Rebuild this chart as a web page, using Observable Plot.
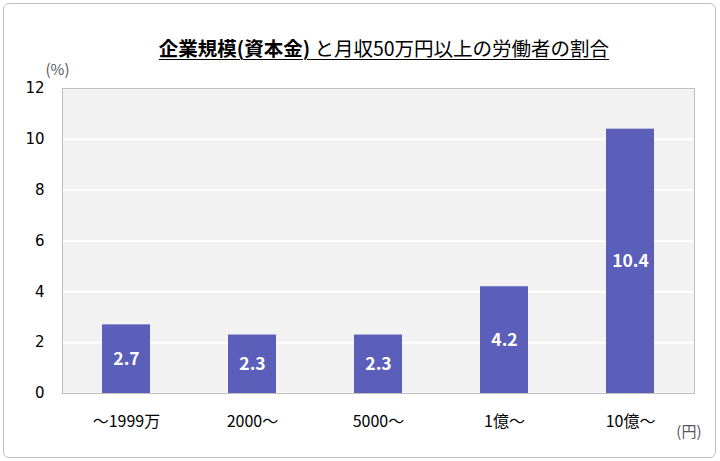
<!DOCTYPE html>
<html>
<head>
<meta charset="utf-8">
<script src="https://cdn.jsdelivr.net/npm/d3@7"></script>
<script src="https://cdn.jsdelivr.net/npm/@observablehq/plot@0.6"></script>
<style>
  html, body { margin: 0; padding: 0; background: #fff; }
  #chart {
    position: relative; width: 720px; height: 461px; box-sizing: border-box;
    font-family: "Noto Sans CJK JP", "Noto Sans", sans-serif;
  }
  #chart .border {
    position: absolute; left: 3px; top: 3px; width: 713px; height: 455px;
    box-sizing: border-box; border: 1px solid #bfbfbf; border-radius: 6px;
    pointer-events: none;
  }
  #chart .title {
    position: absolute; left: 0; top: 35px; width: 768px; text-align: center;
    font-size: 19.5px; color: #000; white-space: nowrap; line-height: 1.3;
  }
  #chart .title span { text-decoration: underline; text-underline-offset: 3px; text-decoration-thickness: 1px; }
  #chart svg { position: absolute; left: 0; top: 0; }
</style>
</head>
<body>
<div id="chart">
  <div class="title"><span><b>企業規模(資本金)</b> と月収50万円以上の労働者の割合</span></div>
  <div class="border"></div>
</div>
<script>
// Capital size brackets and share of workers earning 500k yen or more per month
const categories = ["～1999万", "2000～", "5000～", "1億～", "10億～"];
const shares = [2.7, 2.3, 2.3, 4.2, 10.4];
const yTicks = [0, 2, 4, 6, 8, 10, 12];

const data = categories.map((c, i) => ({category: c, share: shares[i]}));

const chart = Plot.plot({
  width: 720,
  height: 461,
  marginTop: 88,
  marginBottom: 68,
  marginLeft: 62,
  marginRight: 26,
  style: {fontFamily: "'Noto Sans CJK JP', 'Noto Sans', sans-serif", fontSize: "15px", color: "#000", background: "transparent"},
  x: {domain: categories, paddingInner: 0.62, paddingOuter: 0.31, label: null},
  y: {domain: [0, 12], ticks: yTicks, label: null},
  marks: [
    Plot.frame({fill: "#f2f2f2", stroke: "none"}),
    Plot.gridY(yTicks, {stroke: "#ffffff", strokeOpacity: 1, strokeWidth: 2}),
    Plot.frame({stroke: "#bfbfbf", strokeWidth: 1}),
    Plot.barY(data, {x: "category", y: "share", fill: "#5b5fba"}),
    Plot.text(data, {
      x: "category", y: d => d.share / 2, text: d => d.share.toFixed(1),
      fill: "#ffffff", fontWeight: "bold", fontSize: 17.5
    }),
    Plot.axisY({ticks: yTicks, tickSize: 0, tickPadding: 18, fontSize: 15, fontFamily: "'DejaVu Sans', sans-serif"}),
    Plot.axisX({tickSize: 0, tickPadding: 22, fontSize: 16}),
    Plot.text(["(%)"], {frameAnchor: "top-left", textAnchor: "start", lineAnchor: "middle", dx: -17, dy: -18, fill: "#595959", fontSize: 15}),
    Plot.text(["(円)"], {frameAnchor: "bottom-right", textAnchor: "end", lineAnchor: "middle", dx: 7, dy: 39, fill: "#595959", fontSize: 15})
  ]
});

document.getElementById("chart").insertBefore(chart, document.querySelector("#chart .title"));
</script>
</body>
</html>
